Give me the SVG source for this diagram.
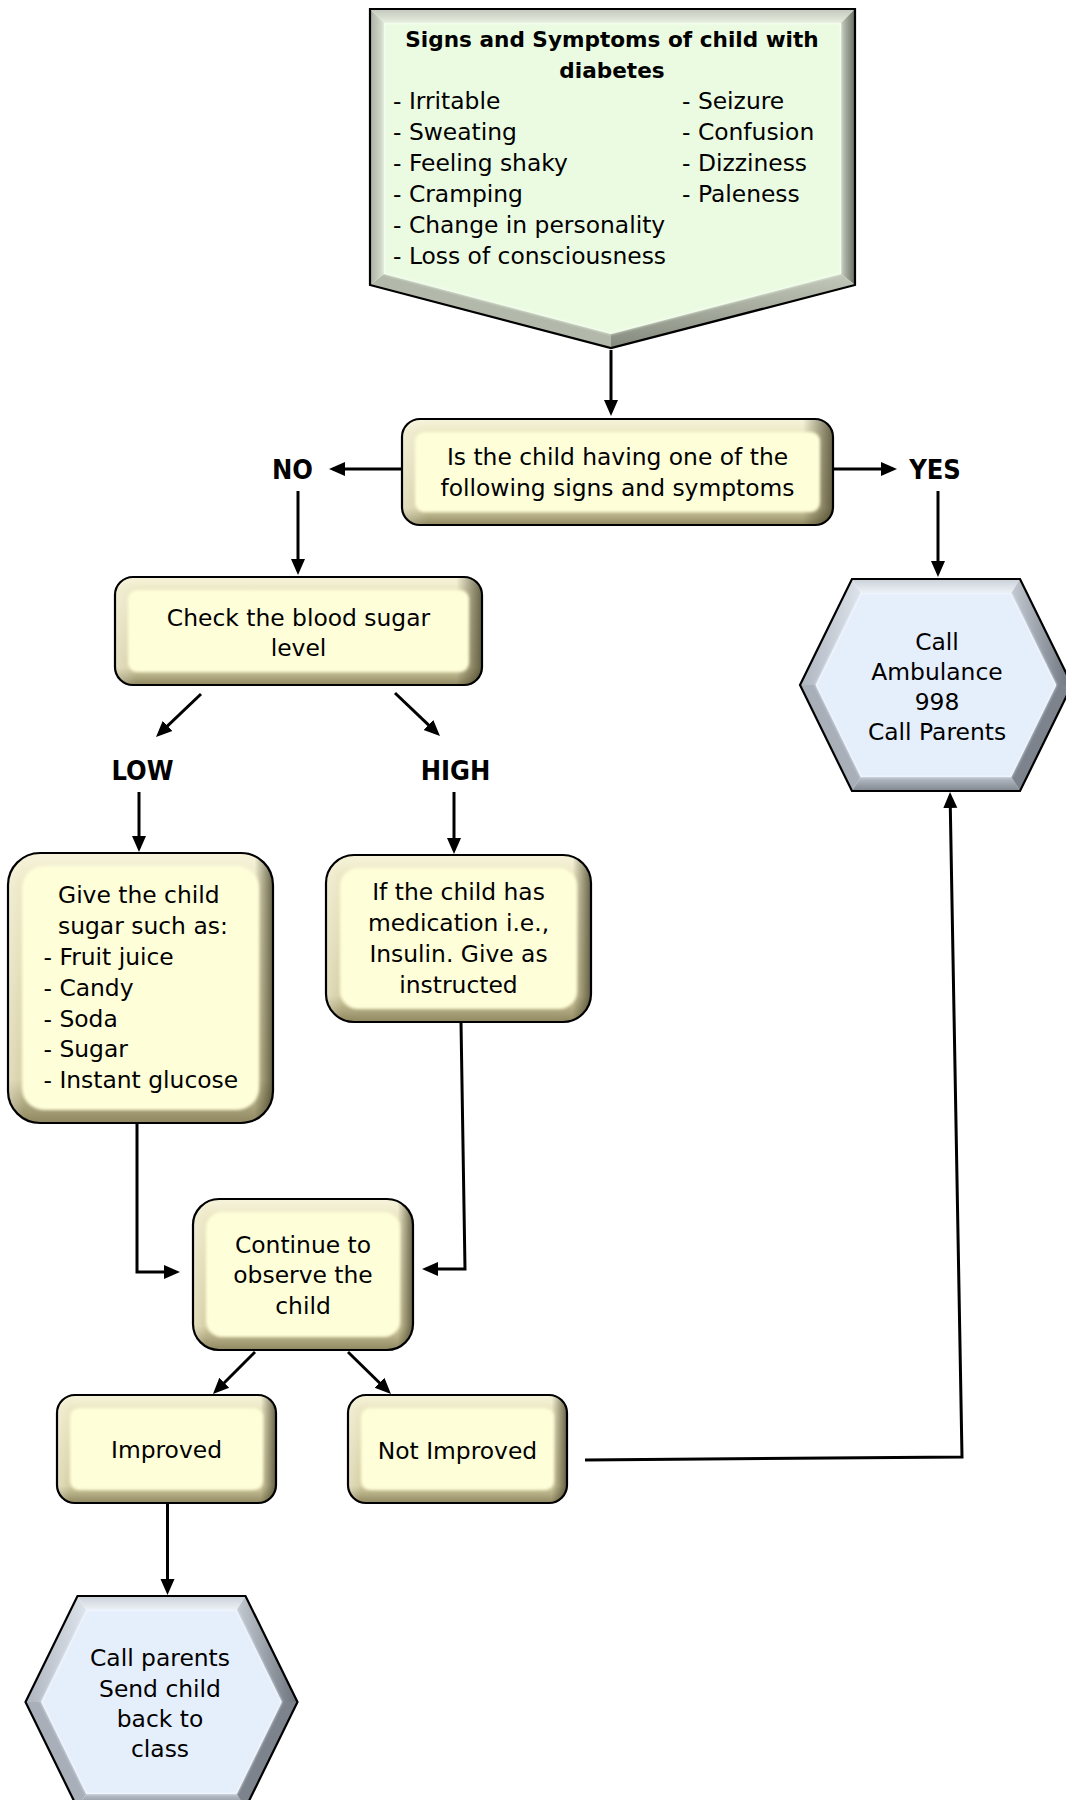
<svg xmlns="http://www.w3.org/2000/svg" xmlns:xlink="http://www.w3.org/1999/xlink" width="1066" height="1800" viewBox="0 0 1066 1800">
  <style>
    .t { font-family: "DejaVu Sans", Verdana, sans-serif; font-size: 23.4px; fill: #000; }
    .c { text-anchor: middle; }
    .lbl { font-family: "DejaVu Sans Condensed", "DejaVu Sans", sans-serif; font-weight: bold; font-size: 27px; }
    .ttl { font-weight: bold; font-size: 21.6px; }
    .bv { fill: url(#bevV); }
    .bh { fill: url(#bevH); }
    .face-y { fill: #fefed9; filter: url(#soft); }
    .edge { fill: none; stroke: #000; stroke-width: 2.2; }
    .conn { fill: none; stroke: #000; stroke-width: 3; marker-end: url(#ah); }
  </style>
  <defs>
    <!-- cream bevel for the rounded process boxes -->
    <linearGradient id="bevV" x1="0" y1="0" x2="0" y2="1">
      <stop offset="0" stop-color="#f7f4dc"/>
      <stop offset="0.12" stop-color="#ece7c4"/>
      <stop offset="0.84" stop-color="#d6cfa4"/>
      <stop offset="1" stop-color="#8e8761"/>
    </linearGradient>
    <linearGradient id="bevH" x1="0" y1="0" x2="1" y2="0">
      <stop offset="0" stop-color="#ffffff" stop-opacity="0.3"/>
      <stop offset="0.06" stop-color="#ffffff" stop-opacity="0"/>
      <stop offset="0.93" stop-color="#3c3820" stop-opacity="0"/>
      <stop offset="1" stop-color="#3c3820" stop-opacity="0.75"/>
    </linearGradient>
    <filter id="soft" x="-5%" y="-5%" width="110%" height="110%">
      <feGaussianBlur stdDeviation="1.6"/>
    </filter>
    <!-- facet shading for the hexagons and the header shape -->
    <linearGradient id="gTop" x1="0" y1="0" x2="0" y2="1">
      <stop offset="0" stop-color="#c9d0d8"/><stop offset="1" stop-color="#eef2f6"/>
    </linearGradient>
    <linearGradient id="gLeft" x1="0" y1="0" x2="1" y2="0">
      <stop offset="0" stop-color="#aeb5bf"/><stop offset="1" stop-color="#dde3ea"/>
    </linearGradient>
    <linearGradient id="gRight" x1="1" y1="0" x2="0" y2="0">
      <stop offset="0" stop-color="#6c737c"/><stop offset="1" stop-color="#c4cad2"/>
    </linearGradient>
    <linearGradient id="gBot" x1="0" y1="1" x2="0" y2="0">
      <stop offset="0" stop-color="#7f868f"/><stop offset="1" stop-color="#b9c0c8"/>
    </linearGradient>
    <linearGradient id="pTop" x1="0" y1="0" x2="0" y2="1">
      <stop offset="0" stop-color="#c2c8bb"/><stop offset="1" stop-color="#e7eee0"/>
    </linearGradient>
    <linearGradient id="pLeft" x1="0" y1="0" x2="1" y2="0">
      <stop offset="0" stop-color="#aab0a2"/><stop offset="1" stop-color="#dbe2d3"/>
    </linearGradient>
    <linearGradient id="pRight" x1="1" y1="0" x2="0" y2="0">
      <stop offset="0" stop-color="#676c61"/><stop offset="1" stop-color="#c6ccbe"/>
    </linearGradient>
    <linearGradient id="pBot" x1="0" y1="1" x2="0" y2="0">
      <stop offset="0" stop-color="#858a7e"/><stop offset="1" stop-color="#c3c9bb"/>
    </linearGradient>
    <!-- bevelled hexagon centred on the origin -->
    <g id="hex">
      <polygon points="-84,-106 84,-106 75.3,-92 -75.3,-92" fill="url(#gTop)"/>
      <polygon points="-136,0 -84,-106 -75.3,-92 -120.4,0" fill="url(#gLeft)"/>
      <polygon points="-136,0 -120.4,0 -75.3,92 -84,106" fill="#a8afb9"/>
      <polygon points="-84,106 -75.3,92 75.3,92 84,106" fill="url(#gBot)"/>
      <polygon points="84,106 75.3,92 120.4,0 136,0" fill="#7c838c"/>
      <polygon points="84,-106 136,0 120.4,0 75.3,-92" fill="url(#gRight)"/>
      <polygon points="-75.3,-92 75.3,-92 120.4,0 75.3,92 -75.3,92 -120.4,0" fill="#e5eefb" filter="url(#soft)"/>
      <polygon points="-84,-106 84,-106 136,0 84,106 -84,106 -136,0" fill="none" stroke="#000" stroke-width="2.2"/>
    </g>
    <marker id="ah" viewBox="0 0 16 16" refX="12" refY="8" markerWidth="16" markerHeight="16" markerUnits="userSpaceOnUse" orient="auto">
      <path d="M0,1 L16,8 L0,15 z" fill="#000"/>
    </marker>
  </defs>

  <rect width="1066" height="1800" fill="#fff"/>

  <!-- connectors -->
  <g id="connectors">
    <line class="conn" x1="611" y1="350" x2="611" y2="412"/>
    <line class="conn" x1="402" y1="469" x2="333" y2="469"/>
    <line class="conn" x1="833" y1="469" x2="893" y2="469"/>
    <line class="conn" x1="298" y1="491" x2="298" y2="571"/>
    <line class="conn" x1="938" y1="491" x2="938" y2="573"/>
    <line class="conn" x1="201" y1="694" x2="158.9" y2="734.2"/>
    <line class="conn" x1="395" y1="693" x2="437.1" y2="733.2"/>
    <line class="conn" x1="139" y1="792" x2="139" y2="848"/>
    <line class="conn" x1="454" y1="792" x2="454" y2="850"/>
    <polyline class="conn" points="137,1123 137,1272 176,1272"/>
    <polyline class="conn" points="461,1022 465,1269 426,1269"/>
    <line class="conn" x1="255" y1="1352" x2="215.8" y2="1391.2"/>
    <line class="conn" x1="348" y1="1352" x2="388.1" y2="1391.2"/>
    <line class="conn" x1="167.5" y1="1503" x2="167.5" y2="1591"/>
    <polyline class="conn" points="585,1460 962,1457 950.1,796"/>
  </g>

  <!-- header: signs and symptoms -->
  <g id="symptoms">
    <polygon points="370,9 855,9 841,23 384,23" fill="url(#pTop)"/>
    <polygon points="855,9 855,285 841,274 841,23" fill="url(#pRight)"/>
    <polygon points="855,285 611,348 611,334 841,274" fill="url(#pBot)"/>
    <polygon points="611,348 370,285 384,274 611,334" fill="#b2b8aa"/>
    <polygon points="370,285 370,9 384,23 384,274" fill="url(#pLeft)"/>
    <polygon points="384,23 841,23 841,274 611,334 384,274" fill="#ebfbe2" filter="url(#soft)"/>
    <polygon points="370,9 855,9 855,285 611,348 370,285" fill="none" stroke="#000" stroke-width="2.2"/>
    <text class="t ttl c" x="612" y="47">Signs and Symptoms of child with</text>
    <text class="t ttl c" x="612" y="78">diabetes</text>
    <text class="t" x="393" y="109">- Irritable</text>
    <text class="t" x="393" y="140">- Sweating</text>
    <text class="t" x="393" y="171">- Feeling shaky</text>
    <text class="t" x="393" y="202">- Cramping</text>
    <text class="t" x="393" y="232.5">- Change in personality</text>
    <text class="t" x="393" y="263.5">- Loss of consciousness</text>
    <text class="t" x="682" y="109">- Seizure</text>
    <text class="t" x="682" y="140">- Confusion</text>
    <text class="t" x="682" y="171">- Dizziness</text>
    <text class="t" x="682" y="202">- Paleness</text>
  </g>

  <!-- decision -->
  <g id="decision">
    <rect class="bv" x="402" y="419" width="431" height="106" rx="18"/>
    <rect class="bh" x="402" y="419" width="431" height="106" rx="18"/>
    <rect class="face-y" x="415" y="432" width="405" height="80" rx="9"/>
    <rect class="edge" x="402" y="419" width="431" height="106" rx="18"/>
    <text class="t c" x="617.5" y="465">Is the child having one of the</text>
    <text class="t c" x="617.5" y="496">following signs and symptoms</text>
  </g>

  <g id="label-no"><text class="t lbl c" x="292.5" y="479">NO</text></g>
  <g id="label-yes"><text class="t lbl c" x="935" y="479">YES</text></g>

  <!-- check blood sugar -->
  <g id="check">
    <rect class="bv" x="115" y="577" width="367" height="108" rx="18"/>
    <rect class="bh" x="115" y="577" width="367" height="108" rx="18"/>
    <rect class="face-y" x="128" y="590" width="341" height="82" rx="9"/>
    <rect class="edge" x="115" y="577" width="367" height="108" rx="18"/>
    <text class="t c" x="298.5" y="625.5">Check the blood sugar</text>
    <text class="t c" x="298.5" y="656">level</text>
  </g>

  <g id="label-low"><text class="t lbl c" x="142.5" y="780">LOW</text></g>
  <g id="label-high"><text class="t lbl c" x="455.5" y="780">HIGH</text></g>

  <!-- call ambulance -->
  <g id="ambulance">
    <use xlink:href="#hex" href="#hex" x="936" y="685"/>
    <text class="t c" x="937" y="650">Call</text>
    <text class="t c" x="937" y="680">Ambulance</text>
    <text class="t c" x="937" y="710">998</text>
    <text class="t c" x="937" y="740">Call Parents</text>
  </g>

  <!-- low: give sugar -->
  <g id="give-sugar">
    <rect class="bv" x="8" y="853" width="265" height="270" rx="32"/>
    <rect class="bh" x="8" y="853" width="265" height="270" rx="32"/>
    <rect class="face-y" x="22" y="866" width="237" height="244" rx="22"/>
    <rect class="edge" x="8" y="853" width="265" height="270" rx="32"/>
    <text class="t" x="58" y="903">Give the child</text>
    <text class="t" x="58" y="934">sugar such as:</text>
    <text class="t" x="43.5" y="965">- Fruit juice</text>
    <text class="t" x="43.5" y="996">- Candy</text>
    <text class="t" x="43.5" y="1027">- Soda</text>
    <text class="t" x="43.5" y="1057">- Sugar</text>
    <text class="t" x="43.5" y="1088">- Instant glucose</text>
  </g>

  <!-- high: medication -->
  <g id="medication">
    <rect class="bv" x="326" y="855" width="265" height="167" rx="28"/>
    <rect class="bh" x="326" y="855" width="265" height="167" rx="28"/>
    <rect class="face-y" x="340" y="868" width="237" height="141" rx="18"/>
    <rect class="edge" x="326" y="855" width="265" height="167" rx="28"/>
    <text class="t c" x="458.5" y="900">If the child has</text>
    <text class="t c" x="458.5" y="931">medication i.e.,</text>
    <text class="t c" x="458.5" y="962">Insulin. Give as</text>
    <text class="t c" x="458.5" y="993">instructed</text>
  </g>

  <!-- observe -->
  <g id="observe">
    <rect class="bv" x="193" y="1199" width="220" height="151" rx="26"/>
    <rect class="bh" x="193" y="1199" width="220" height="151" rx="26"/>
    <rect class="face-y" x="206" y="1212" width="194" height="125" rx="16"/>
    <rect class="edge" x="193" y="1199" width="220" height="151" rx="26"/>
    <text class="t c" x="303" y="1252.5">Continue to</text>
    <text class="t c" x="303" y="1283">observe the</text>
    <text class="t c" x="303" y="1314">child</text>
  </g>

  <!-- improved -->
  <g id="improved">
    <rect class="bv" x="57" y="1395" width="219" height="108" rx="18"/>
    <rect class="bh" x="57" y="1395" width="219" height="108" rx="18"/>
    <rect class="face-y" x="70" y="1408" width="193" height="82" rx="9"/>
    <rect class="edge" x="57" y="1395" width="219" height="108" rx="18"/>
    <text class="t c" x="166.5" y="1458">Improved</text>
  </g>

  <!-- not improved -->
  <g id="not-improved">
    <rect class="bv" x="348" y="1395" width="219" height="108" rx="18"/>
    <rect class="bh" x="348" y="1395" width="219" height="108" rx="18"/>
    <rect class="face-y" x="361" y="1408" width="193" height="82" rx="9"/>
    <rect class="edge" x="348" y="1395" width="219" height="108" rx="18"/>
    <text class="t c" x="457.5" y="1459">Not Improved</text>
  </g>

  <!-- call parents, back to class -->
  <g id="back-to-class">
    <use xlink:href="#hex" href="#hex" x="161.5" y="1702"/>
    <text class="t c" x="160" y="1666">Call parents</text>
    <text class="t c" x="160" y="1697">Send child</text>
    <text class="t c" x="160" y="1727">back to</text>
    <text class="t c" x="160" y="1757">class</text>
  </g>
</svg>
